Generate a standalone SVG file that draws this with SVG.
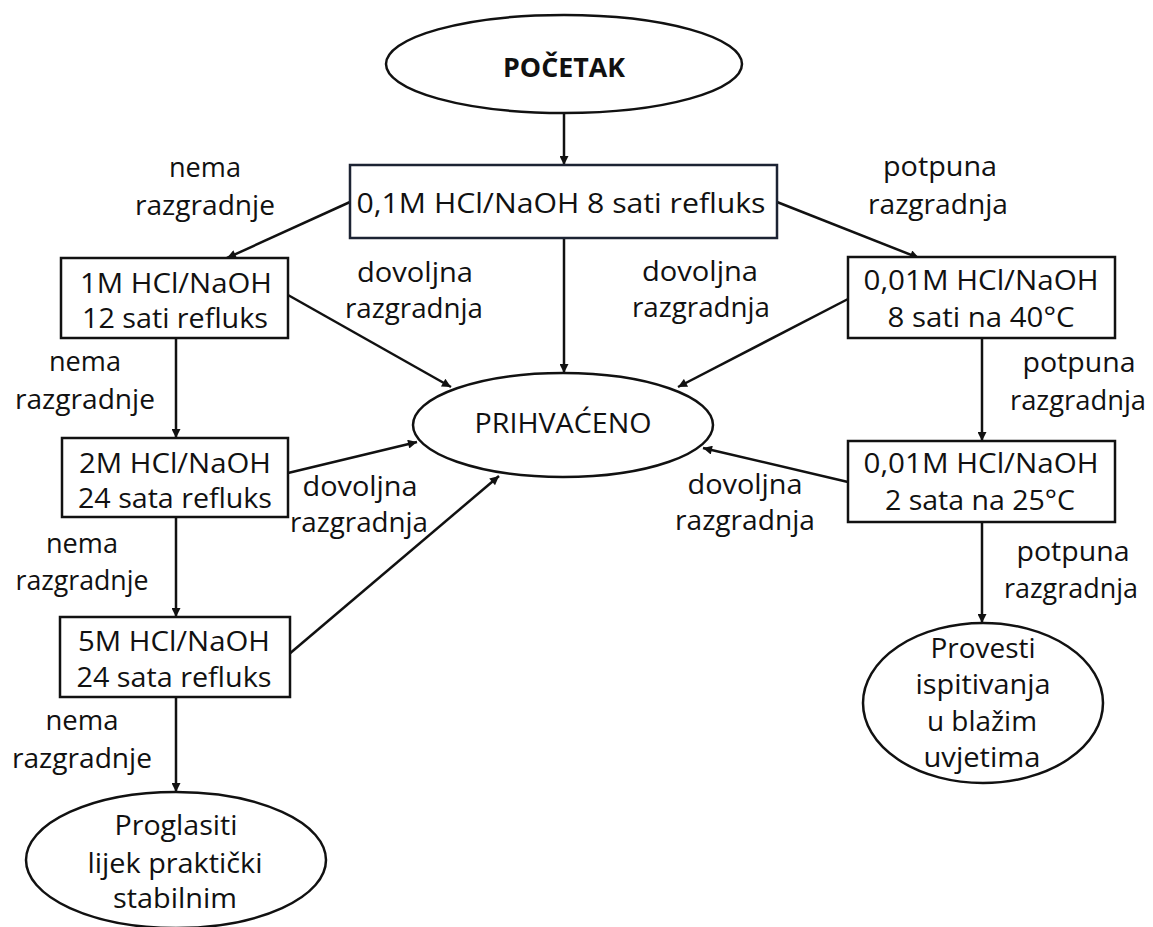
<svg xmlns="http://www.w3.org/2000/svg" width="1153" height="927" viewBox="0 0 1153 927">
<defs>
<style>
.sh{fill:#fff;stroke:#111;stroke-width:2.5}
.t{font-family:"Open Sans","Liberation Sans",sans-serif;font-size:27px;fill:#111;text-anchor:middle}
.b{font-weight:bold}
.c{stroke:#111;stroke-width:2.5;fill:none;marker-end:url(#ah)}
</style>
<marker id="ah" viewBox="0 0 10 10" refX="10" refY="5" markerWidth="11" markerHeight="9" orient="auto" markerUnits="userSpaceOnUse">
<path d="M0,0 L10,5 L0,10 z" fill="#111"/>
</marker>
</defs>
<rect width="1153" height="927" fill="#fff"/>
<g id="connectors">
<line class="c" x1="564" y1="113" x2="564" y2="165"/>
<line class="c" x1="564" y1="238" x2="564" y2="373"/>
<line class="c" x1="350" y1="202" x2="227" y2="258"/>
<line class="c" x1="777" y1="202" x2="919" y2="258"/>
<line class="c" x1="288" y1="295" x2="451" y2="387"/>
<line class="c" x1="848" y1="299" x2="678" y2="387"/>
<line class="c" x1="176" y1="338" x2="176" y2="438"/>
<line class="c" x1="288" y1="473" x2="417" y2="442"/>
<line class="c" x1="288" y1="655" x2="499" y2="476"/>
<line class="c" x1="848" y1="482" x2="703" y2="448"/>
<line class="c" x1="176" y1="517" x2="176" y2="617"/>
<line class="c" x1="176" y1="697" x2="176" y2="792"/>
<line class="c" x1="982" y1="338" x2="982" y2="441"/>
<line class="c" x1="982" y1="522" x2="982" y2="623"/>
</g>
<g id="labels">
<text class="t" x="205" y="177" textLength="72" lengthAdjust="spacingAndGlyphs">nema</text>
<text class="t" x="205" y="215" textLength="140" lengthAdjust="spacingAndGlyphs">razgradnje</text>
<text class="t" x="940" y="176" textLength="114" lengthAdjust="spacingAndGlyphs">potpuna</text>
<text class="t" x="938" y="214" textLength="140" lengthAdjust="spacingAndGlyphs">razgradnja</text>
<text class="t" x="415" y="282" textLength="116" lengthAdjust="spacingAndGlyphs">dovoljna</text>
<text class="t" x="414" y="318" textLength="138" lengthAdjust="spacingAndGlyphs">razgradnja</text>
<text class="t" x="700" y="281" textLength="116" lengthAdjust="spacingAndGlyphs">dovoljna</text>
<text class="t" x="701" y="317" textLength="138" lengthAdjust="spacingAndGlyphs">razgradnja</text>
<text class="t" x="85" y="371" textLength="72" lengthAdjust="spacingAndGlyphs">nema</text>
<text class="t" x="85" y="409" textLength="140" lengthAdjust="spacingAndGlyphs">razgradnje</text>
<text class="t" x="1079" y="372" textLength="113" lengthAdjust="spacingAndGlyphs">potpuna</text>
<text class="t" x="1078" y="410" textLength="136" lengthAdjust="spacingAndGlyphs">razgradnja</text>
<text class="t" x="360" y="496" textLength="115" lengthAdjust="spacingAndGlyphs">dovoljna</text>
<text class="t" x="359" y="532" textLength="138" lengthAdjust="spacingAndGlyphs">razgradnja</text>
<text class="t" x="745" y="494" textLength="115" lengthAdjust="spacingAndGlyphs">dovoljna</text>
<text class="t" x="745" y="530" textLength="140" lengthAdjust="spacingAndGlyphs">razgradnja</text>
<text class="t" x="82" y="553" textLength="72" lengthAdjust="spacingAndGlyphs">nema</text>
<text class="t" x="82" y="590" textLength="133" lengthAdjust="spacingAndGlyphs">razgradnje</text>
<text class="t" x="1073" y="561" textLength="113" lengthAdjust="spacingAndGlyphs">potpuna</text>
<text class="t" x="1071" y="598" textLength="134" lengthAdjust="spacingAndGlyphs">razgradnja</text>
<text class="t" x="82" y="730" textLength="73" lengthAdjust="spacingAndGlyphs">nema</text>
<text class="t" x="82" y="768" textLength="140" lengthAdjust="spacingAndGlyphs">razgradnje</text>
</g>
<g id="start">
<ellipse class="sh" cx="564" cy="64" rx="178" ry="49"/>
<text class="t b" x="564" y="77" textLength="122" lengthAdjust="spacingAndGlyphs">POČETAK</text>
</g>
<g id="step0">
<rect class="sh" x="350" y="165" width="427" height="73" style="stroke:#1c2333"/>
<text class="t" x="561" y="213" textLength="409" lengthAdjust="spacingAndGlyphs">0,1M HCl/NaOH 8 sati refluks</text>
</g>
<g id="step1M">
<rect class="sh" x="61" y="258" width="227" height="80"/>
<text class="t" x="176" y="293" textLength="192" lengthAdjust="spacingAndGlyphs">1M HCl/NaOH</text>
<text class="t" x="175" y="328" textLength="186" lengthAdjust="spacingAndGlyphs">12 sati refluks</text>
</g>
<g id="step2M">
<rect class="sh" x="62" y="438" width="226" height="79"/>
<text class="t" x="175" y="473" textLength="192" lengthAdjust="spacingAndGlyphs">2M HCl/NaOH</text>
<text class="t" x="175" y="508" textLength="194" lengthAdjust="spacingAndGlyphs">24 sata refluks</text>
</g>
<g id="step5M">
<rect class="sh" x="60" y="617" width="230" height="80"/>
<text class="t" x="174" y="651" textLength="192" lengthAdjust="spacingAndGlyphs">5M HCl/NaOH</text>
<text class="t" x="174" y="687" textLength="195" lengthAdjust="spacingAndGlyphs">24 sata refluks</text>
</g>
<g id="step001-40">
<rect class="sh" x="848" y="257" width="267" height="81"/>
<text class="t" x="981" y="290" textLength="235" lengthAdjust="spacingAndGlyphs">0,01M HCl/NaOH</text>
<text class="t" x="981" y="327" textLength="187" lengthAdjust="spacingAndGlyphs">8 sati na 40°C</text>
</g>
<g id="step001-25">
<rect class="sh" x="848" y="441" width="267" height="81"/>
<text class="t" x="981" y="473" textLength="235" lengthAdjust="spacingAndGlyphs">0,01M HCl/NaOH</text>
<text class="t" x="980" y="510" textLength="190" lengthAdjust="spacingAndGlyphs">2 sata na 25°C</text>
</g>
<g id="accepted">
<ellipse class="sh" cx="563" cy="425" rx="150" ry="52"/>
<text class="t" x="563" y="433" textLength="177" lengthAdjust="spacingAndGlyphs">PRIHVAĆENO</text>
</g>
<g id="stable">
<ellipse class="sh" cx="176" cy="860" rx="150" ry="68"/>
<text class="t" x="176" y="835" textLength="123" lengthAdjust="spacingAndGlyphs">Proglasiti</text>
<text class="t" x="175" y="873" textLength="175" lengthAdjust="spacingAndGlyphs">lijek praktički</text>
<text class="t" x="175" y="908" textLength="124" lengthAdjust="spacingAndGlyphs">stabilnim</text>
</g>
<g id="mild">
<ellipse class="sh" cx="983" cy="703" rx="120" ry="80"/>
<text class="t" x="983" y="658" textLength="105" lengthAdjust="spacingAndGlyphs">Provesti</text>
<text class="t" x="983" y="694" textLength="135" lengthAdjust="spacingAndGlyphs">ispitivanja</text>
<text class="t" x="982" y="731" textLength="110" lengthAdjust="spacingAndGlyphs">u blažim</text>
<text class="t" x="982" y="767" textLength="117" lengthAdjust="spacingAndGlyphs">uvjetima</text>
</g>
</svg>
